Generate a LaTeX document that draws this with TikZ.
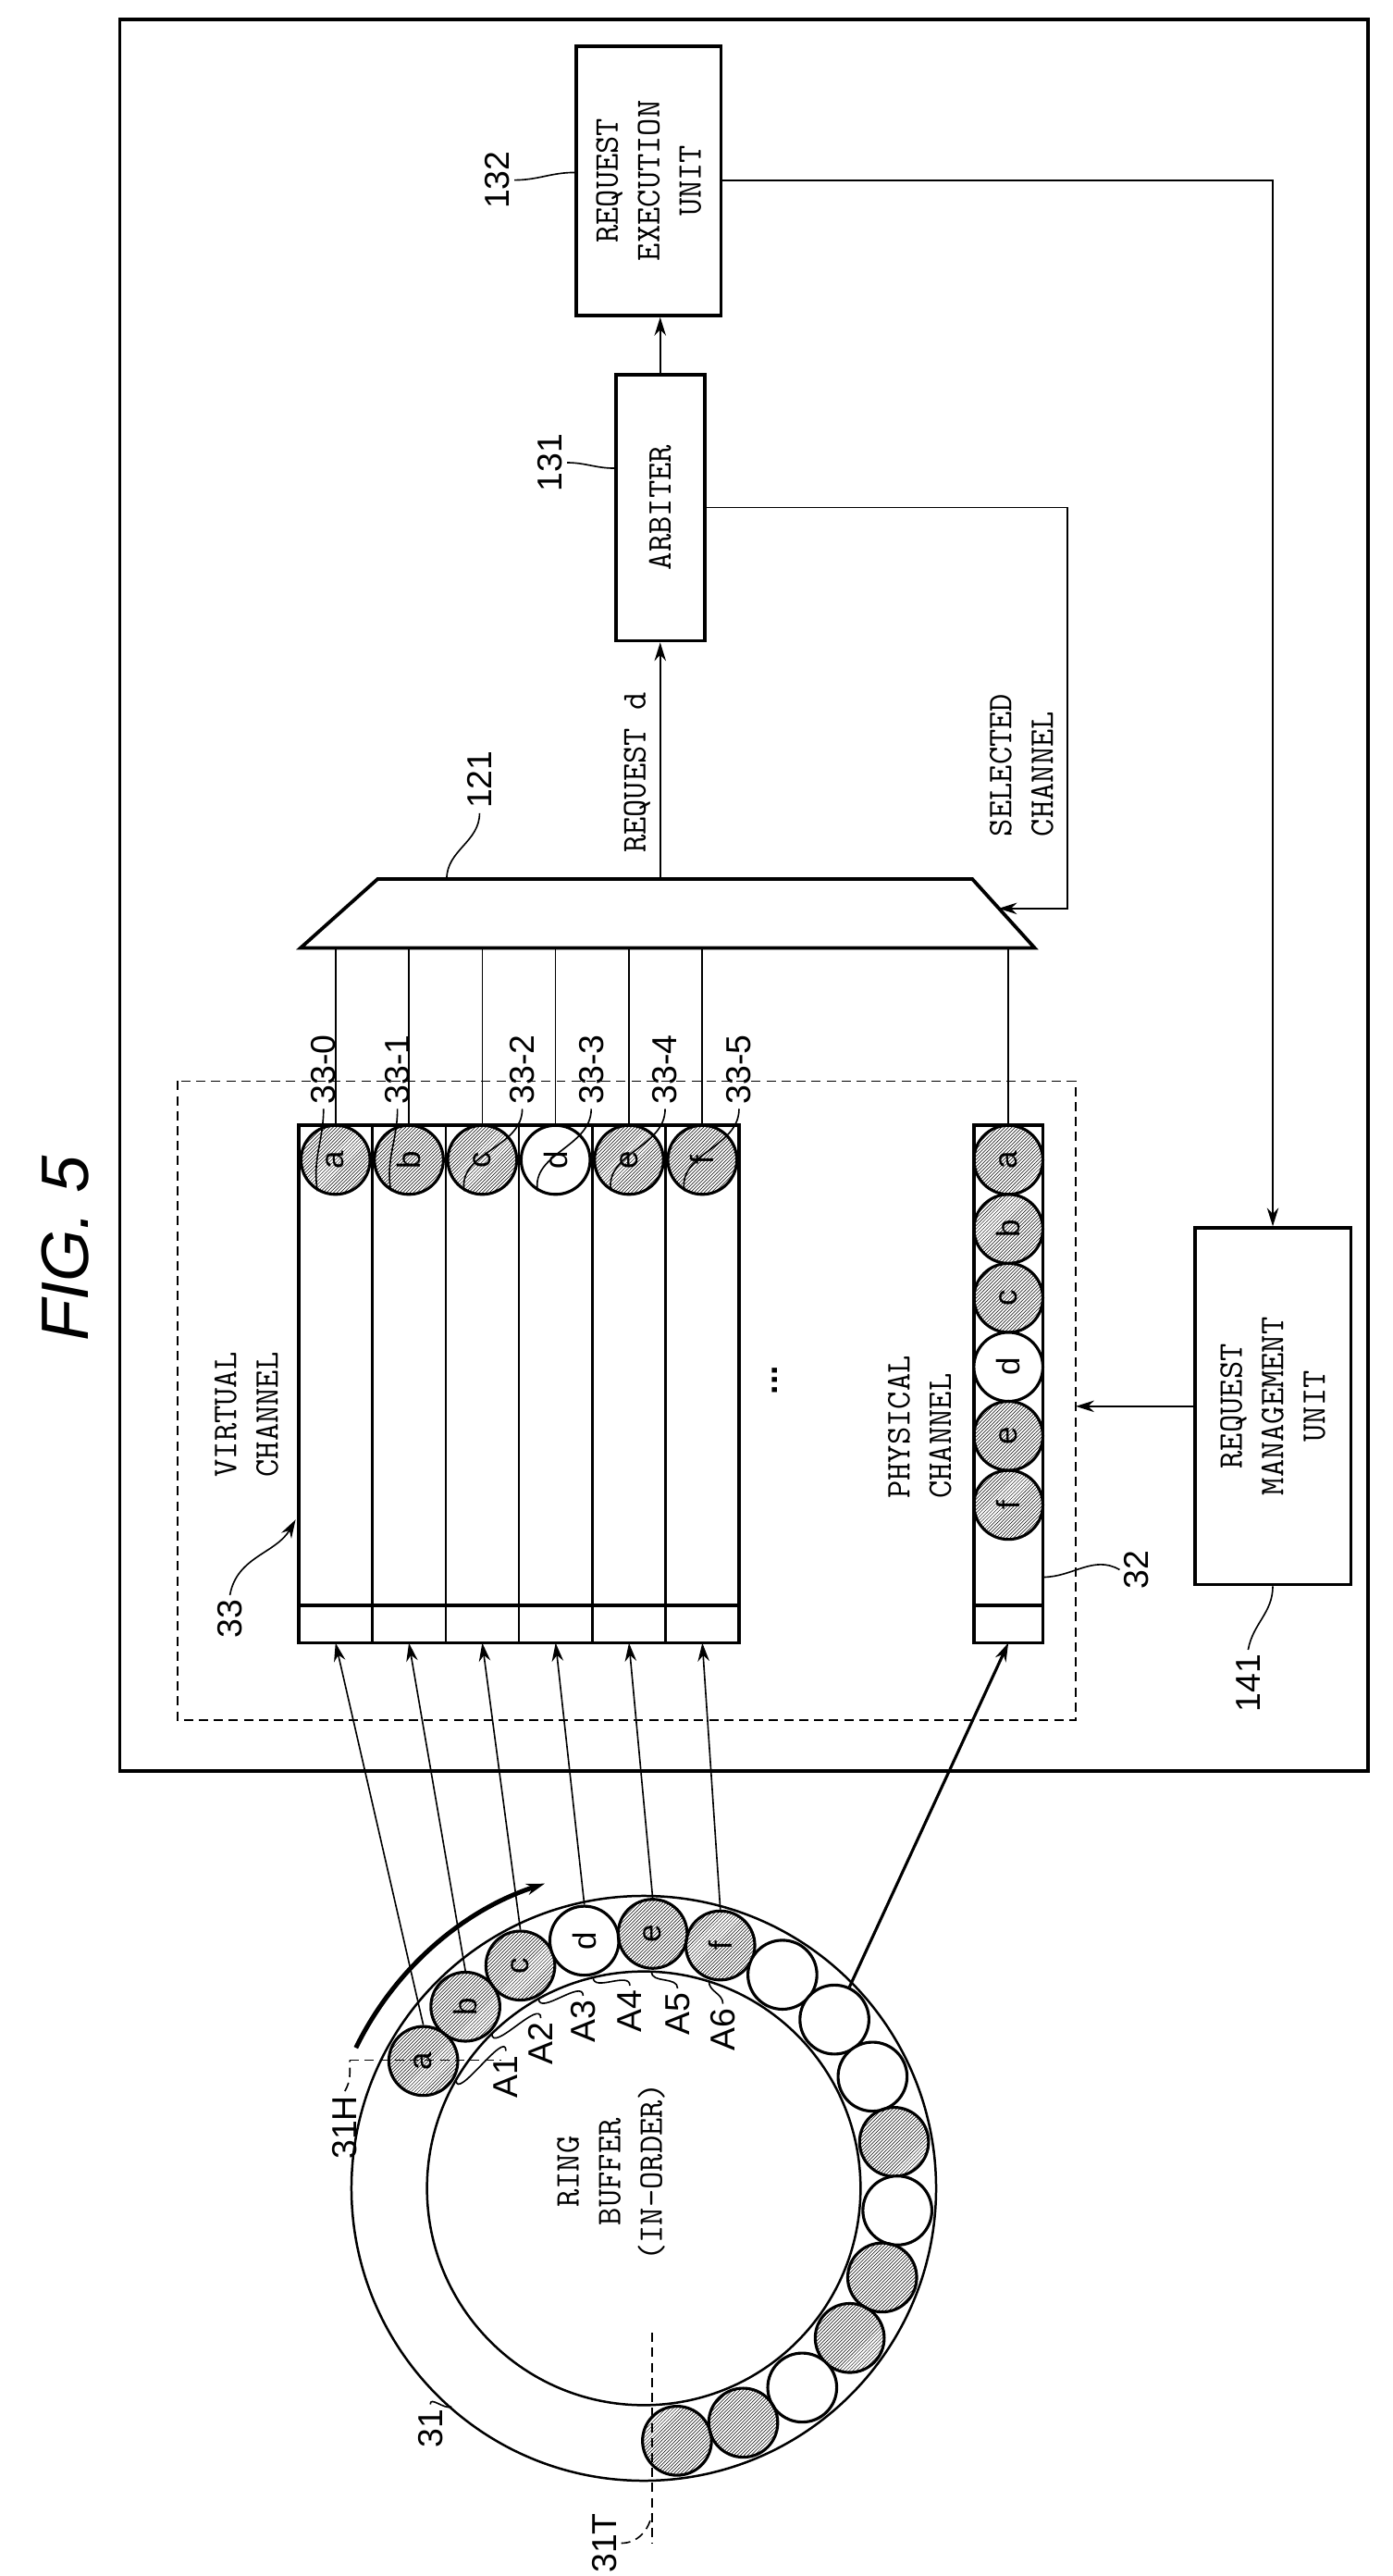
\documentclass[tikz,border=0pt]{standalone}
\usepackage{fontspec}
\setsansfont{Liberation Sans}
\usepackage{tikz}
\usetikzlibrary{arrows.meta,patterns}

\begin{document}
\begin{tikzpicture}[x=0.05cm,y=-0.05cm,>={Stealth[length=16pt,width=10pt]},line width=1.3pt,
                    box/.style={draw,line width=3pt,inner sep=0pt},
                    mono/.style={font=\fontsize{30}{36}\selectfont\ttfamily,rotate=90,align=center},
                    num/.style={font=\fontsize{30}{34}\sffamily,rotate=90},
                    dsh/.style={dash pattern=on 8pt off 5pt},
                    ball/.style={draw,circle,line width=2.5pt,fill=white,minimum size=2.1cm,inner sep=0pt,
                                 font=\fontsize{28}{30}\sffamily,rotate=90},
                    hball/.style={ball,pattern=north east lines}]
  \useasboundingbox (0,0) rectangle (848,1568);
  \node[font=\fontsize{58}{60}\sffamily\itshape,rotate=90] (fig) at (40,760) {FIG. 5};
  % outer box and dashed channel area
  \draw[line width=3pt] (73,12) rectangle (833,1078);
  \draw[dsh,line width=1.2pt] (108,658) rectangle (655,1047);
  % units
  \node[box,minimum width=4.4cm,minimum height=8.2cm] (exec) at (395,110) {};
  \node[mono] (exec-t) at (exec) {REQUEST\\EXECUTION\\UNIT};
  \node[box,minimum width=2.7cm,minimum height=8.1cm] (arb) at (402,309) {};
  \node[mono] (arb-t) at (arb) {ARBITER};
  \node[box,minimum width=4.75cm,minimum height=10.85cm] (mgmt) at (775,856) {};
  \node[mono] (mgmt-t) at (mgmt) {REQUEST\\MANAGEMENT\\UNIT};
  % selector 121
  \draw[line width=3pt] (183,577) coordinate (mux-bl) -- (230,535) -- (592,535) -- (630,577) coordinate (mux-br) -- cycle;
  \coordinate (mux-out) at (402,535);
  \coordinate (mux-sel) at (608,553);
  \draw[->] (mux-out) -- (arb.south);
  \draw[->] (arb.north) -- (arb.north |- exec.south);
  \draw[->] (arb.east) -| (650,553) -- (mux-sel);
  \draw[->] (exec.east) -| (mgmt.north);
  \draw[->] (mgmt.west) -- (655,856);
  \node[mono,anchor=west] (req) at (388,522) {REQUEST d};
  \node[mono,anchor=west,align=left] (sel) at (622,512) {SELECTED\\CHANNEL};
  % virtual channel 33
  \draw[line width=3pt] (182,685) rectangle (450,1000);
  \draw[line width=3pt] (182,977) -- (450,977);
  \foreach \i in {1,...,5}
    \draw[line width=2pt] ({182+44.67*\i},685) -- ({182+44.67*\i},1000);
  \foreach \l/\s/\lx [count=\i from 0] in {a/hball/197,b/hball/242,c/hball/318,d/ball/360,e/hball/405,f/hball/450}{
    \node[\s] (vc\i) at ({204.3+44.67*\i},706) {\l};
    \coordinate (vb\i) at ({204.3+44.67*\i},1000);
    \coordinate (vt\i) at ({204.3+44.67*\i},577);
    \draw (vt\i) -- (vc\i.east);
    \node[num,anchor=west] (l\i) at (\lx,675) {33-\i};
    \draw (l\i.west) to[out=-90,in=100] (vc\i.150);
  }
  \node[mono,anchor=west,align=left] (vch) at (150,902) {VIRTUAL\\CHANNEL};
  \node[num,anchor=west] (l33) at (140,1000) {33};
  \draw[->] (l33.east) to[out=80,in=-120] (180,925);
  \node[font=\fontsize{30}{30}\sffamily\bfseries,rotate=90] (dots) at (472,840) {...};
  % physical channel 32
  \draw[line width=3pt] (593,685) rectangle (635,1000);
  \draw[line width=3pt] (593,977) -- (635,977);
  \foreach \l/\s [count=\i from 0] in {a/hball,b/hball,c/hball,d/ball,e/hball,f/hball}
    \node[\s] (pc\i) at (614,{706+42*\i}) {\l};
  \draw (614,577) coordinate (pt) -- (pc0.east);
  \coordinate (pb) at (614,1000);
  \node[mono,anchor=west,align=left] (pch) at (560,915) {PHYSICAL\\CHANNEL};
  \node[num,anchor=west] (l32) at (692,970) {32};
  \draw (l32.north) to[out=150,in=0] (635,960);
  \node[num,anchor=west] (l141) at (760,1045) {141};
  \draw (l141.east) to[out=80,in=-90] (mgmt.south);
  \node[num,anchor=west] (l132) at (303,130) {132};
  \draw (l132.south) to[out=0,in=180] (exec.west |- 0,105);
  \node[num,anchor=west] (l131) at (335,302) {131};
  \draw (l131.south) to[out=0,in=180] (arb.west |- 0,285);
  \node[num,anchor=west] (l121) at (292,495) {121};
  \draw (l121.west) to[out=-90,in=90] (272,535);
  % ring buffer 31
  \node[draw,circle,line width=2pt,minimum size=17.8cm] (ring) at (392,1332) {};
  \node[draw,circle,line width=2pt,minimum size=13.2cm] (inner) at (392,1332) {};
  \foreach \a/\t/\s [count=\i] in {150/a/hball,134.5/b/hball,119/c/hball,103.5/d/ball,88/e/hball,72.5/f/hball,
      57//ball,41.5//ball,26//ball,10.5//hball,-5//ball,-20.5//hball,-36//hball,-51.5//ball,-67//hball,-82.5//hball}
    \node[\s] (rb\i) at ({392+155*cos(\a)},{1332-155*sin(\a)}) {\t};
  \foreach \i [evaluate=\i as \j using int(\i+1)] in {0,...,5}
    \draw[->] (rb\j.east) -- (vb\i);
  \draw[->,line width=2.5pt] (rb8) -- (pb);
  \draw[->,line width=4pt] (216.7,1246.5) coordinate (hd) arc[start angle=154,end angle=108,radius=9.75cm];
  \node[mono] (ringt) at (372,1322) {RING\\BUFFER\\(IN-ORDER)};
  \foreach \n/\a in {1/150,2/134.5,3/119,4/103.5,5/88,6/72.5}{
    \pgfmathsetmacro\cx{392+132*cos(\a)}
    \pgfmathsetmacro\cy{1332-132*sin(\a)}
    \pgfmathsetmacro\lx{392+108*cos(\a-9)}
    \pgfmathsetmacro\ly{1332-108*sin(\a-9)}
    \node[num] (A\n) at (\lx,\ly) {A\n};
    \draw (A\n.east) to[out=90,in=-90] (\cx,\cy);
  }
  % head and tail marks
  \draw[dsh] (213,1254) coordinate (h0) -- (305,1254) coordinate (h1);
  \node[num] (l31H) at (210,1295) {31H};
  \draw[dsh] (l31H.east) to[out=60,in=-90] (h0);
  \draw[dsh] (397,1420) coordinate (t0) -- (397,1548) coordinate (t1);
  \node[num] (l31T) at (368,1548) {31T};
  \draw[dsh] (l31T.south) to[out=0,in=-100] (397,1530);
  \node[num] (l31) at (262,1478) {31};
  \draw (l31.east) to[out=90,in=200] (275,1465);
\end{tikzpicture}
\end{document}
